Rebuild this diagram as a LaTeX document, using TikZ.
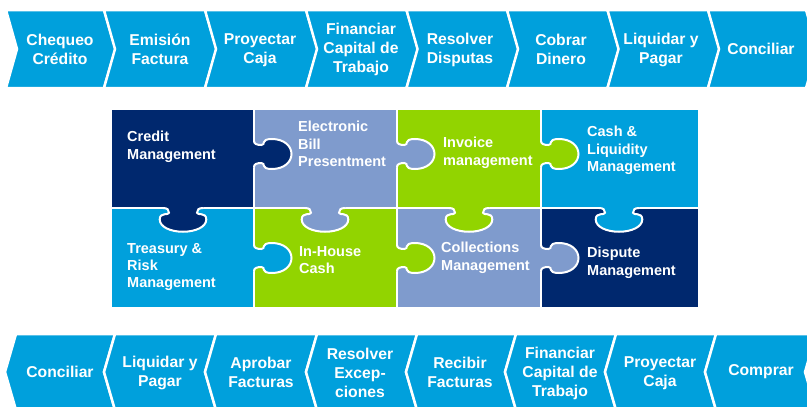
\documentclass[tikz,border=0pt]{standalone}
\usepackage{fontspec}
\setmainfont{Liberation Sans}
\definecolor{chev}{HTML}{00A0DC}
\definecolor{navyp}{HTML}{00286E}
\definecolor{slatep}{HTML}{7F9BCD}
\definecolor{limep}{HTML}{92D400}
\definecolor{cyanp}{HTML}{00A0DC}
\newcommand{\puzzleH}[3]{%
  \begin{scope}[shift={(#2,#3)}]
    \fill[#1] (-3,-13) -- (0,-13) .. controls (0,-10) and (3,-9) .. (7.5,-9)
      .. controls (12,-9) and (6,-15) .. (18,-15)
      .. controls (30,-15) and (37.5,-8) .. (37.5,0)
      .. controls (37.5,8) and (30,15) .. (18,15)
      .. controls (6,15) and (12,9) .. (7.5,9)
      .. controls (3,9) and (0,10) .. (0,13) -- (-3,13) -- cycle;
    \draw[sep] (0,-13) .. controls (0,-10) and (3,-9) .. (7.5,-9)
      .. controls (12,-9) and (6,-15) .. (18,-15)
      .. controls (30,-15) and (37.5,-8) .. (37.5,0)
      .. controls (37.5,8) and (30,15) .. (18,15)
      .. controls (6,15) and (12,9) .. (7.5,9)
      .. controls (3,9) and (0,10) .. (0,13);
  \end{scope}}
\newcommand{\puzzleV}[3]{%
  \begin{scope}[shift={(#2,#3)}]
    \fill[#1] (-20,-3) -- (-20,0) .. controls (-15.5,0) and (-14,1.9) .. (-14,4.75)
      .. controls (-14,7.6) and (-23.3,3.8) .. (-23.3,11.4)
      .. controls (-23.3,19) and (-12.4,23.75) .. (0,23.75)
      .. controls (12.4,23.75) and (23.3,19) .. (23.3,11.4)
      .. controls (23.3,3.8) and (14,7.6) .. (14,4.75)
      .. controls (14,1.9) and (15.5,0) .. (20,0) -- (20,-3) -- cycle;
    \draw[sep] (-20,0) .. controls (-15.5,0) and (-14,1.9) .. (-14,4.75)
      .. controls (-14,7.6) and (-23.3,3.8) .. (-23.3,11.4)
      .. controls (-23.3,19) and (-12.4,23.75) .. (0,23.75)
      .. controls (12.4,23.75) and (23.3,19) .. (23.3,11.4)
      .. controls (23.3,3.8) and (14,7.6) .. (14,4.75)
      .. controls (14,1.9) and (15.5,0) .. (20,0);
  \end{scope}}
\begin{document}
\begin{tikzpicture}[x=1pt,y=-1pt,
  chevshape/.style={fill=chev, draw=white, line width=2.5pt, line join=miter},
  chevtext/.style={text=white, font=\fontsize{15.7}{19}\selectfont\bfseries, align=center, inner sep=0pt},
  piecetext/.style={text=white, font=\fontsize{14.5}{17.3}\selectfont\bfseries, align=left, inner sep=0pt, anchor=north west},
  sep/.style={draw=white, line width=2pt}]
\useasboundingbox (0,0) rectangle (807,407);
\clip (0,0) rectangle (807,407);
% top chevrons
\foreach \l/\r in {6/104, 104/205, 205/306, 306/406.5, 406.5/507, 507/607.5, 607.5/708, 708/806}
  \draw[chevshape] (\l,10) -- (\r,10) -- ({\r+11.5},49) -- (\r,88) -- (\l,88) -- ({\l+11},49) -- cycle;
% bottom chevrons
\foreach \l/\r in {5/104, 104/205, 205/306, 306/406, 406/505, 505/605, 605/705, 705/805}
  \draw[chevshape] (\l,372) -- ({\l+11},334) -- ({\r+11},334) -- (\r,372) -- ({\r+11},410) -- ({\l+11},410) -- cycle;
% puzzle pieces
\fill[navyp] (112,110) rectangle (254,208);
\fill[slatep] (254,110) rectangle (397,208);
\fill[limep] (397,110) rectangle (541,208);
\fill[cyanp] (541,110) rectangle (698,208);
\fill[cyanp] (112,208) rectangle (254,307);
\fill[limep] (254,208) rectangle (397,307);
\fill[slatep] (397,208) rectangle (541,307);
\fill[navyp] (541,208) rectangle (698,307);
\draw[sep] (112,208) -- (698,208);
\draw[sep] (254,110) -- (254,307);
\draw[sep] (397,110) -- (397,307);
\draw[sep] (541,110) -- (541,307);
% tabs
\puzzleH{navyp}{254}{154}
\puzzleH{slatep}{397}{154}
\puzzleH{limep}{541}{154}
\puzzleH{cyanp}{254}{258}
\puzzleH{limep}{397}{258}
\puzzleH{slatep}{541}{258}
\puzzleV{navyp}{183}{208}
\puzzleV{slatep}{325}{208}
\puzzleV{limep}{469}{208}
\puzzleV{cyanp}{619}{208}
% puzzle texts
\node[piecetext] (p1) at (127,131) {Credit\\Management};
\node[piecetext] (p2) at (298,121) {Electronic\\Bill\\Presentment};
\node[piecetext] (p3) at (443,137) {Invoice\\management};
\node[piecetext] (p4) at (587,126) {Cash \&\\Liquidity\\Management};
\node[piecetext] (p5) at (127,243) {Treasury \&\\Risk\\Management};
\node[piecetext] (p6) at (299,246) {In-House\\Cash};
\node[piecetext] (p7) at (441,242) {Collections\\Management};
\node[piecetext] (p8) at (587,247) {Dispute\\Management};
% top texts
\node[chevtext] (t1) at (60,49) {Chequeo\\Crédito};
\node[chevtext] (t2) at (160,49) {Emisión\\Factura};
\node[chevtext] (t3) at (260,50) {Proyectar\\Caja};
\node[chevtext] (t4) at (361,49) {Financiar\\Capital de\\Trabajo};
\node[chevtext] (t5) at (460,50) {Resolver\\Disputas};
\node[chevtext] (t6) at (561,49) {Cobrar\\Dinero};
\node[chevtext] (t7) at (661,50) {Liquidar y\\Pagar};
\node[chevtext] (t8) at (761,49) {Conciliar};
% bottom texts
\node[chevtext] (b1) at (60,372) {Conciliar};
\node[chevtext] (b2) at (160,373) {Liquidar y\\Pagar};
\node[chevtext] (b3) at (261,372) {Aprobar\\Facturas};
\node[chevtext] (b4) at (360,373) {Resolver\\Excep-\\ciones};
\node[chevtext] (b5) at (460,372) {Recibir\\Facturas};
\node[chevtext] (b6) at (560,373) {Financiar\\Capital de\\Trabajo};
\node[chevtext] (b7) at (660,373) {Proyectar\\Caja};
\node[chevtext] (b8) at (761,372) {Comprar};
\end{tikzpicture}
\end{document}
